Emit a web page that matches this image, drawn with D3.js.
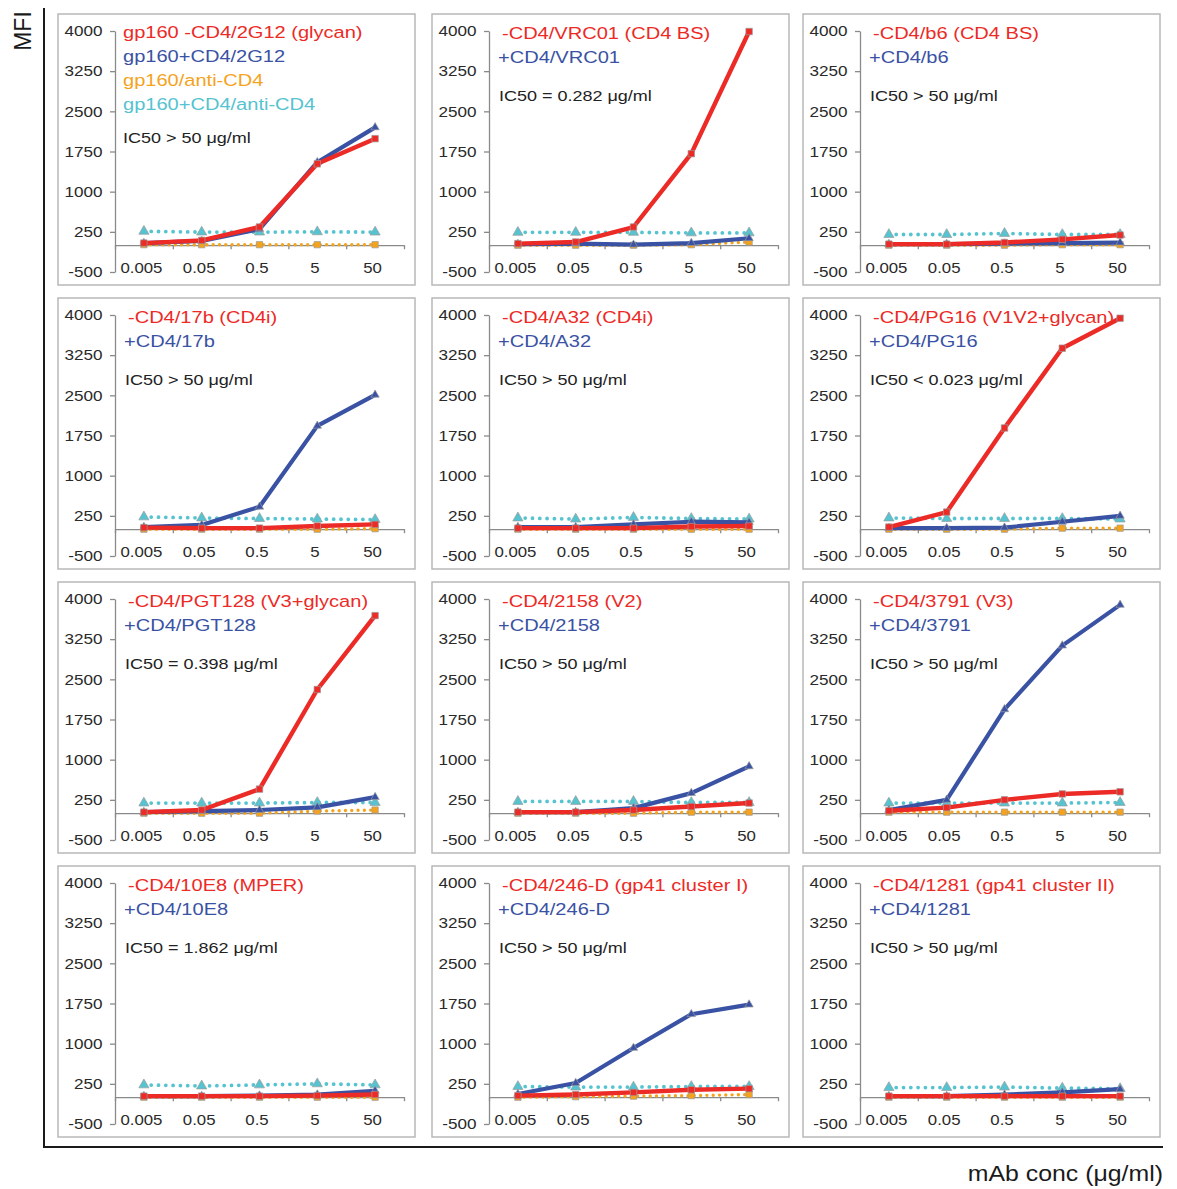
<!DOCTYPE html>
<html>
<head>
<meta charset="utf-8">
<script src="https://cdn.jsdelivr.net/npm/d3@7"></script>
<style>
  body { margin: 0; background: #fff; }
  svg text { font-family: "Liberation Sans", Arial, Helvetica, sans-serif; }
</style>
</head>
<body>
<div class="svg-container"></div>
<script>
// concentrations on the x axis (categories)
var concLabels = ["0.005", "0.05", "0.5", "5", "50"];
var yTicks = [-500, 250, 1000, 1750, 2500, 3250, 4000];

// legend texts, one entry per panel (row by row)
var redLabels = ["gp160 -CD4/2G12 (glycan)", "-CD4/VRC01 (CD4 BS)", "-CD4/b6 (CD4 BS)",
                 "-CD4/17b (CD4i)", "-CD4/A32 (CD4i)", "-CD4/PG16 (V1V2+glycan)",
                 "-CD4/PGT128 (V3+glycan)", "-CD4/2158 (V2)", "-CD4/3791 (V3)",
                 "-CD4/10E8 (MPER)", "-CD4/246-D (gp41 cluster I)", "-CD4/1281 (gp41 cluster II)"];
var blueLabels = ["gp160+CD4/2G12", "+CD4/VRC01", "+CD4/b6",
                  "+CD4/17b", "+CD4/A32", "+CD4/PG16",
                  "+CD4/PGT128", "+CD4/2158", "+CD4/3791",
                  "+CD4/10E8", "+CD4/246-D", "+CD4/1281"];
var ic50Labels = ["IC50 > 50 \u03bcg/ml", "IC50 = 0.282 \u03bcg/ml", "IC50 > 50 \u03bcg/ml",
                  "IC50 > 50 \u03bcg/ml", "IC50 > 50 \u03bcg/ml", "IC50 < 0.023 \u03bcg/ml",
                  "IC50 = 0.398 \u03bcg/ml", "IC50 > 50 \u03bcg/ml", "IC50 > 50 \u03bcg/ml",
                  "IC50 = 1.862 \u03bcg/ml", "IC50 > 50 \u03bcg/ml", "IC50 > 50 \u03bcg/ml"];
var orangeLabel = "gp160/anti-CD4";
var cyanLabel = "gp160+CD4/anti-CD4";

// MFI values
var redValues = [
  [40, 90, 340, 1520, 1990],
  [30, 60, 340, 1710, 3990],
  [20, 20, 50, 110, 190],
  [30, 20, 20, 60, 90],
  [20, 20, 20, 50, 60],
  [40, 320, 1890, 3380, 3940],
  [20, 60, 450, 2310, 3690],
  [20, 20, 60, 125, 190],
  [45, 105, 250, 360, 400],
  [20, 20, 20, 30, 50],
  [30, 50, 90, 140, 160],
  [20, 20, 20, 20, 20]
];
var blueValues = [
  [40, 80, 300, 1550, 2200],
  [20, 30, 10, 40, 130],
  [20, 20, 30, 40, 50],
  [40, 80, 420, 1930, 2510],
  [40, 40, 90, 140, 130],
  [20, 20, 30, 140, 250],
  [20, 40, 60, 110, 300],
  [20, 20, 95, 375, 875],
  [60, 250, 1940, 3130, 3890],
  [20, 20, 30, 50, 120],
  [60, 265, 920, 1550, 1730],
  [20, 20, 50, 90, 150]
];
var orangeValues = [
  [10, 10, 10, 10, 10],
  [0, 0, 0, 10, 60],
  [0, 0, 0, 10, 10],
  [0, 0, 0, 0, 10],
  [0, 0, 0, 0, 0],
  [0, 0, 0, 20, 20],
  [0, 0, 0, 40, 60],
  [0, 0, 0, 20, 20],
  [20, 20, 20, 20, 20],
  [0, 0, 0, 0, 0],
  [0, 10, 20, 30, 50],
  [0, 0, 0, 0, 0]
];
var cyanValues = [
  [260, 245, 245, 250, 245],
  [240, 240, 240, 230, 230],
  [200, 200, 220, 200, 200],
  [230, 210, 200, 190, 180],
  [210, 190, 220, 200, 190],
  [210, 200, 200, 200, 190],
  [190, 190, 190, 200, 200],
  [220, 220, 220, 200, 200],
  [190, 190, 190, 190, 200],
  [230, 210, 230, 250, 230],
  [200, 190, 190, 200, 200],
  [180, 180, 190, 170, 160]
];

var COLORS = { red: "#ec2a26", blue: "#3a52a3", orange: "#f5a31c", cyan: "#55c3d0", axis: "#8a8a8a" };
var SX = 1.18; // the figure text is a bit wider than the font

var svg = d3.select(".svg-container").append("svg")
  .attr("width", 1177).attr("height", 1189);

var colX = [58, 432, 803];
var rowY = [14, 298, 582, 866];
var panelW = 357, panelH = 271;

// helper to write stretched text
var addText = function(g, x, y, str, size, color, anchor, sx) {
  return g.append("text")
    .attr("transform", "translate(" + x + "," + y + ") scale(" + (sx || SX) + ",1)")
    .attr("font-size", size + "px")
    .attr("fill", color)
    .attr("text-anchor", anchor || "start")
    .text(str);
};

var drawPanel = function(idx) {
  var px = colX[idx % 3], py = rowY[Math.floor(idx / 3)];
  var g = svg.append("g");

  g.append("rect")
    .attr("x", px).attr("y", py).attr("width", panelW).attr("height", panelH)
    .attr("fill", "#fff").attr("stroke", "#b8b8b8").attr("stroke-width", 1.5);

  var axisX = px + 57, axisRight = px + 346;
  var y = d3.scaleLinear().domain([-500, 4000]).range([py + 258, py + 17]);
  var x = d3.scaleLinear().domain([0, 5]).range([axisX, axisRight]);

  // y axis
  var yAxis = g.append("g")
    .attr("transform", "translate(" + axisX + ",0)")
    .call(d3.axisLeft(y).tickValues(yTicks).tickSize(5).tickSizeOuter(0).tickPadding(6)
      .tickFormat(function(d) { return String(d); }));
  yAxis.selectAll("path, line").attr("stroke", COLORS.axis).attr("stroke-width", 1.3);
  yAxis.selectAll("text")
    .attr("font-size", "15px").attr("fill", "#2a2a2a")
    .attr("font-family", "Liberation Sans, Arial, sans-serif")
    .attr("transform", "scale(1.14,1)");

  // x axis line at 0 with ticks between categories
  var xLine = g.append("g")
    .attr("transform", "translate(0," + y(0) + ")")
    .call(d3.axisBottom(x).tickValues([0, 1, 2, 3, 4, 5]).tickFormat("").tickSize(4).tickSizeOuter(0));
  xLine.selectAll("path, line").attr("stroke", COLORS.axis).attr("stroke-width", 1.3);

  // category labels along the bottom
  var xLabels = g.append("g")
    .attr("transform", "translate(-3," + (y(-500) - 4) + ")")
    .call(d3.axisBottom(x).tickValues([0.5, 1.5, 2.5, 3.5, 4.5])
      .tickFormat(function(d) { return concLabels[Math.floor(d)]; }).tickSize(0));
  xLabels.select(".domain").remove();
  xLabels.selectAll("text")
    .attr("y", 0).attr("dy", "0.35em")
    .attr("font-size", "15px").attr("fill", "#2a2a2a")
    .attr("font-family", "Liberation Sans, Arial, sans-serif")
    .attr("transform", "scale(1.12,1)");

  var line = d3.line()
    .x(function(d, i) { return x(i + 0.5); })
    .y(function(d) { return y(d); });

  var series = [
    { vals: orangeValues[idx], color: COLORS.orange, dotted: true, width: 3.4, dash: "0,6.3", sym: d3.symbolSquare, size: 40 },
    { vals: cyanValues[idx], color: COLORS.cyan, dotted: true, width: 3.8, dash: "0,7.3", sym: d3.symbolTriangle, size: 45 },
    { vals: blueValues[idx], color: COLORS.blue, dotted: false, width: 4.2, sym: d3.symbolTriangle, size: 30 },
    { vals: redValues[idx], color: COLORS.red, dotted: false, width: 4.4, sym: d3.symbolSquare, size: 42 }
  ];

  series.forEach(function(s) {
    var path = g.append("path")
      .datum(s.vals)
      .attr("d", line)
      .attr("fill", "none")
      .attr("stroke", s.color)
      .attr("stroke-width", s.width)
      .attr("stroke-linejoin", "round");
    if (s.dotted) {
      path.attr("stroke-dasharray", s.dash).attr("stroke-linecap", "round");
    }
    g.selectAll(null)
      .data(s.vals)
      .enter()
      .append("path")
        .attr("d", d3.symbol().type(s.sym).size(s.size))
        .attr("transform", function(d, i) { return "translate(" + x(i + 0.5) + "," + y(d) + ")"; })
        .attr("fill", s.color)
        .attr("stroke", "#9c9c9c")
        .attr("stroke-width", 0.7);
  });

  // legend texts
  if (idx === 0) {
    addText(g, px + 65, py + 24, redLabels[idx], 17, COLORS.red);
    addText(g, px + 65, py + 48, blueLabels[idx], 17, COLORS.blue);
    addText(g, px + 65, py + 72, orangeLabel, 17, COLORS.orange);
    addText(g, px + 65, py + 96, cyanLabel, 17, COLORS.cyan);
    addText(g, px + 65, py + 129, ic50Labels[idx], 15, "#222", "start", 1.2);
  } else {
    addText(g, px + 70, py + 25, redLabels[idx], 17, COLORS.red);
    addText(g, px + 66, py + 49, blueLabels[idx], 17, COLORS.blue);
    addText(g, px + 67, py + 87, ic50Labels[idx], 15, "#222", "start", 1.2);
  }
};

for (var i = 0; i < 12; i++) {
  drawPanel(i);
}

// outer axes of the whole figure
svg.append("line").attr("x1", 44).attr("x2", 44).attr("y1", 8).attr("y2", 1148)
  .attr("stroke", "#1a1a1a").attr("stroke-width", 2);
svg.append("line").attr("x1", 43).attr("x2", 1163).attr("y1", 1147).attr("y2", 1147)
  .attr("stroke", "#1a1a1a").attr("stroke-width", 2);

svg.append("text")
  .attr("transform", "translate(31,31) rotate(-90)")
  .attr("font-size", "23px").attr("fill", "#1a1a1a")
  .attr("text-anchor", "middle")
  .text("MFI");

addText(svg, 1163, 1181, "mAb conc (\u03bcg/ml)", 22, "#1a1a1a", "end", 1.13);
</script>
</body>
</html>
